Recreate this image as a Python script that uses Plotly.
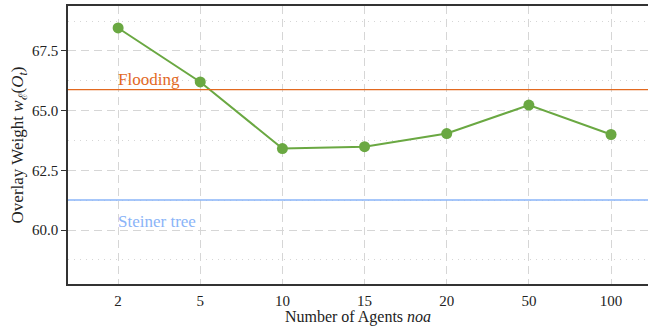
import plotly.graph_objects as go

categories = ["2", "5", "10", "15", "20", "50", "100"]
overlay_weight = [68.46, 66.20, 63.41, 63.49, 64.04, 65.23, 64.00]
flooding_value = 65.88
steiner_value = 61.26
y_ticks = [60.0, 62.5, 65.0, 67.5]

font_family = "Liberation Serif, DejaVu Serif, serif"
green = "#6aa842"
orange = "#e2691f"
blue = "#8ab4f8"

fig = go.Figure()
x_idx = list(range(len(categories)))

fig.add_trace(go.Scatter(
    x=x_idx, y=overlay_weight, mode="lines+markers",
    line=dict(color=green, width=2),
    marker=dict(color=green, size=11),
    showlegend=False,
))

fig.add_hline(y=flooding_value, line=dict(color=orange, width=1.3))
fig.add_hline(y=steiner_value, line=dict(color=blue, width=1.6))

fig.add_annotation(x=0, y=flooding_value, text="Flooding", showarrow=False,
                   xanchor="left", yanchor="bottom", yshift=-1, xshift=-2,
                   font=dict(color=orange, size=17, family=font_family))
fig.add_annotation(x=0, y=steiner_value, text="Steiner tree", showarrow=False,
                   xanchor="left", yanchor="top", yshift=-10, xshift=-2,
                   font=dict(color=blue, size=17, family=font_family))

fig.update_layout(
    width=648, height=326,
    margin=dict(l=68, r=0, t=6, b=42),
    paper_bgcolor="white", plot_bgcolor="white",
    font=dict(family=font_family, size=14, color="#222222"),
    xaxis=dict(
        tickmode="array", tickvals=x_idx, ticktext=categories,
        range=[-0.61, 6.45],
        showline=True, linecolor="#333333", linewidth=1.5, mirror=True,
        showgrid=True, gridcolor="#d6d6d6", griddash="8px,5px", gridwidth=1,
        ticks="", ticklabelstandoff=2,
        zeroline=False,
        title=dict(text="Number of Agents <i>noa</i>", font=dict(size=16), standoff=6),
        tickfont=dict(size=15),
    ),
    yaxis=dict(
        range=[57.74, 69.38],
        tickmode="array", tickvals=y_ticks,
        ticktext=[f"{v:.1f}" for v in y_ticks],
        showline=True, linecolor="#333333", linewidth=1.5,
        showgrid=True, gridcolor="#d6d6d6", griddash="8px,5px", gridwidth=1,
        ticks="outside", ticklen=5, tickcolor="#333333",
        zeroline=False,
        minor=dict(dtick=2.5, tick0=58.75, showgrid=True, gridcolor="#d6d6d6",
                   griddash="1px,5px", gridwidth=1.2, ticks=""),
        title=dict(text="Overlay Weight <i>w</i><sub>ℰ</sub>(<i>O</i><sub><i>t</i></sub>)",
                   font=dict(size=17), standoff=4),
        tickfont=dict(size=15),
    ),
)

fig.write_html("out.html")
